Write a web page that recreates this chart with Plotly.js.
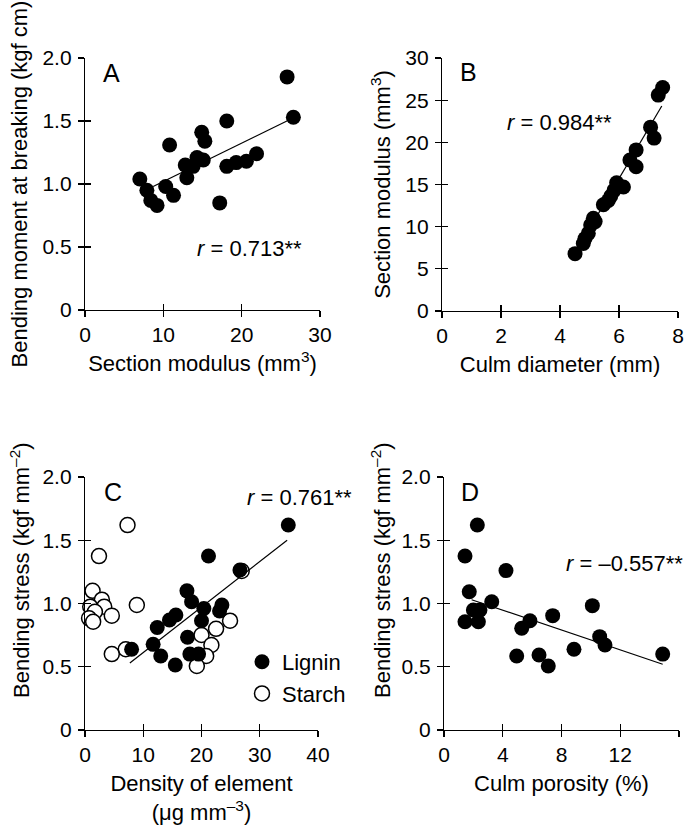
<!DOCTYPE html>
<html>
<head>
<meta charset="utf-8">
<script src="https://cdn.plot.ly/plotly-3.0.1.min.js"></script>
<style>html,body{margin:0;padding:0;background:#fff;}#chart{width:690px;height:827px;}</style>
</head>
<body>
<div id="chart"></div>
<script>
// ---------- Data ----------
// Panel A: section modulus (mm3) vs bending moment at breaking (kgf cm)
const aSection = [7.0, 7.9, 8.4, 9.2, 10.3, 10.8, 11.3, 12.8, 13.0, 13.8, 14.3, 14.9, 15.1, 15.3, 17.2, 18.1, 18.1, 19.3, 20.6, 21.9, 25.8, 26.6];
const aMoment  = [1.04, 0.95, 0.87, 0.83, 0.98, 1.31, 0.91, 1.15, 1.05, 1.14, 1.21, 1.41, 1.19, 1.34, 0.85, 1.50, 1.14, 1.17, 1.18, 1.24, 1.85, 1.53];
const aFitX = [8.7, 26.1];
const aFitY = [0.98, 1.51];

// Panel B: culm diameter (mm) vs section modulus (mm3)
const bDiameter = [4.51, 4.79, 4.85, 4.96, 5.04, 5.19, 5.13, 5.47, 5.64, 5.72, 5.83, 6.15, 5.92, 6.58, 6.37, 6.58, 7.19, 7.07, 7.33, 7.48];
const bSection  = [6.8, 8.0, 8.6, 9.2, 10.2, 10.6, 11.0, 12.6, 13.1, 13.6, 14.3, 14.7, 15.2, 17.1, 17.9, 19.1, 20.5, 21.8, 25.6, 26.5];
const bFitX = [4.5, 7.45];
const bFitY = [6.8, 24.3];

// Panel C: density of element (ug mm-3) vs bending stress (kgf mm-2)
const cLigninX = [34.9, 21.2, 26.6, 17.5, 18.3, 20.4, 23.5, 23.1, 20.0, 15.6, 14.5, 12.4, 17.6, 11.7, 8.0, 13.0, 18.0, 19.5, 15.5];
const cLigninY = [1.62, 1.375, 1.265, 1.10, 1.014, 0.961, 0.988, 0.941, 0.864, 0.909, 0.87, 0.81, 0.733, 0.677, 0.638, 0.585, 0.60, 0.60, 0.514];
const cStarchX = [7.3, 2.4, 1.3, 2.9, 0.9, 3.3, 1.7, 4.6, 0.7, 1.4, 8.9, 7.0, 4.6, 26.9, 24.9, 22.5, 20.0, 21.7, 20.8, 19.2];
const cStarchY = [1.62, 1.375, 1.10, 1.03, 0.975, 0.975, 0.935, 0.904, 0.883, 0.856, 0.988, 0.638, 0.60, 1.257, 0.864, 0.80, 0.751, 0.672, 0.585, 0.506];
const cFitX = [7.7, 34.7];
const cFitY = [0.53, 1.50];

// Panel D: culm porosity (%) vs bending stress (kgf mm-2)
const dPorosity = [2.27, 1.43, 4.22, 1.72, 3.25, 2.0, 2.45, 1.43, 2.34, 5.85, 5.29, 7.4, 10.1, 10.6, 10.96, 8.85, 4.95, 6.47, 7.1, 14.89];
const dStress   = [1.62, 1.375, 1.26, 1.093, 1.014, 0.949, 0.949, 0.856, 0.856, 0.864, 0.804, 0.904, 0.983, 0.738, 0.672, 0.638, 0.585, 0.593, 0.506, 0.60];
const dFitX = [1.88, 14.89];
const dFitY = [1.03, 0.52];

// Tick labels
const stressTicks = [0, 0.5, 1.0, 1.5, 2.0];
const stressTickText = ['0', '0.5', '1.0', '1.5', '2.0'];
const aXTicks = [0, 10, 20, 30];
const bXTicks = [0, 2, 4, 6, 8];
const bYTicks = [0, 5, 10, 15, 20, 25, 30];
const cXTicks = [0, 10, 20, 30, 40];
const dXTicks = [0, 4, 8, 12, 16];

// ---------- Styling ----------
const FONT = 'Liberation Sans, Arial, Helvetica, sans-serif';
const W = 690, H = 827;
const px = (a, b) => [a / W, b / W];
const py = (top, bottom) => [1 - bottom / H, 1 - top / H];

const dot = {size: 15, color: 'black'};
const ring = {size: 15, color: 'white', line: {color: 'black', width: 1.5}};
const fitLine = {color: 'black', width: 1.2};

function pts(x, y, xa, ya, marker, extra) {
  return Object.assign({x, y, xaxis: xa, yaxis: ya, type: 'scatter', mode: 'markers', marker, cliponaxis: false, showlegend: false, hoverinfo: 'skip'}, extra || {});
}
function fit(x, y, xa, ya) {
  return {x, y, xaxis: xa, yaxis: ya, type: 'scatter', mode: 'lines', line: fitLine, showlegend: false, hoverinfo: 'skip'};
}
function dummy(xa, ya) {
  return {x: [], y: [], xaxis: xa, yaxis: ya, type: 'scatter', mode: 'markers', showlegend: false, hoverinfo: 'skip'};
}

const data = [
  pts(aSection, aMoment, 'x', 'y', dot),
  fit(aFitX, aFitY, 'x', 'y'),
  pts(bDiameter, bSection, 'x2', 'y2', dot),
  fit(bFitX, bFitY, 'x2', 'y2'),
  pts(cStarchX, cStarchY, 'x3', 'y3', ring, {name: 'Starch', showlegend: true, legendrank: 2}),
  pts(cLigninX, cLigninY, 'x3', 'y3', dot, {name: 'Lignin', showlegend: true, legendrank: 1}),
  fit(cFitX, cFitY, 'x3', 'y3'),
  pts(dPorosity, dStress, 'x4', 'y4', dot),
  fit(dFitX, dFitY, 'x4', 'y4'),
  // overlay axes to draw the inward half of crossing ticks
  dummy('x', 'y5'), dummy('x5', 'y'),
  dummy('x2', 'y6'), dummy('x6', 'y2'),
  dummy('x3', 'y7'), dummy('x7', 'y3'),
  dummy('x4', 'y8'), dummy('x8', 'y4')
];

function ax(domain, range, tickvals, ticktext, anchor, extra) {
  return Object.assign({
    domain, range, anchor, tickvals, ticktext: ticktext || tickvals.map(String),
    showline: true, linecolor: 'black', linewidth: 1.2,
    ticks: 'outside', ticklen: 6, tickwidth: 1.2, tickcolor: 'black',
    showgrid: false, zeroline: false, fixedrange: true,
    tickfont: {family: FONT, size: 21, color: 'black'}
  }, extra || {});
}
function inner(over, anchor, range, tickvals) {
  return {overlaying: over, anchor, range, tickvals, ticks: 'inside', ticklen: 6, tickwidth: 1.2, tickcolor: 'black',
    showticklabels: false, showline: false, showgrid: false, zeroline: false, fixedrange: true};
}
const titleFont = {family: FONT, size: 22, color: 'black'};
const rFont = {family: FONT, size: 22, color: 'black'};
const letterFont = {family: FONT, size: 25, color: 'black'};

const layout = {
  width: W, height: H,
  margin: {l: 0, r: 0, t: 0, b: 0},
  paper_bgcolor: 'white', plot_bgcolor: 'rgba(0,0,0,0)',
  font: {family: FONT, size: 21, color: 'black'},
  showlegend: true,
  legend: {x: 242 / W, y: 1 - 641 / H, xanchor: 'left', yanchor: 'top', bgcolor: 'rgba(0,0,0,0)',
           font: {family: FONT, size: 22, color: 'black'}, tracegroupgap: 0, itemwidth: 30},

  xaxis: ax(px(85, 320), [0, 30], aXTicks, null, 'y', {title: {text: 'Section modulus (mm<sup>3</sup>)', font: titleFont, standoff: 10}}),
  yaxis: ax(py(58, 310), [0, 2], stressTicks, stressTickText, 'x', {ticklabelstandoff: 2, title: {text: 'Bending moment at breaking (kgf cm)', font: titleFont, standoff: 8}}),
  xaxis2: ax(px(442, 678), [0, 8], bXTicks, null, 'y2', {title: {text: 'Culm diameter (mm)', font: titleFont, standoff: 10}}),
  yaxis2: ax(py(58, 311), [0, 30], bYTicks, null, 'x2', {ticklabelstandoff: 2, title: {text: 'Section modulus (mm<sup>3</sup>)', font: titleFont, standoff: 8}}),
  xaxis3: ax(px(85, 318), [0, 40], cXTicks, null, 'y3', {title: {text: 'Density of element<br>(\u03BCg mm<sup>\u20133</sup>)', font: titleFont, standoff: 10}}),
  yaxis3: ax(py(477, 730), [0, 2], stressTicks, stressTickText, 'x3', {ticklabelstandoff: 2}),
  xaxis4: ax(px(444, 679), [0, 16], dXTicks, null, 'y4', {title: {text: 'Culm porosity (%)', font: titleFont, standoff: 10}}),
  yaxis4: ax(py(477, 730), [0, 2], stressTicks, stressTickText, 'x4', {ticklabelstandoff: 2}),

  yaxis5: inner('y', 'x', [0, 2], stressTicks),
  xaxis5: inner('x', 'y', [0, 30], aXTicks),
  yaxis6: inner('y2', 'x2', [0, 30], bYTicks),
  xaxis6: inner('x2', 'y2', [0, 8], bXTicks),
  yaxis7: inner('y3', 'x3', [0, 2], stressTicks),
  xaxis7: inner('x3', 'y3', [0, 40], cXTicks),
  yaxis8: inner('y4', 'x4', [0, 2], stressTicks),
  xaxis8: inner('x4', 'y4', [0, 16], dXTicks),

  annotations: [
    {text: 'A', x: 2.1, y: 1.88, xref: 'x', yref: 'y', xanchor: 'left', yanchor: 'middle', showarrow: false, font: letterFont},
    {text: 'B', x: 0.54, y: 28.3, xref: 'x2', yref: 'y2', xanchor: 'left', yanchor: 'middle', showarrow: false, font: letterFont},
    {text: 'C', x: 2.9, y: 1.88, xref: 'x3', yref: 'y3', xanchor: 'left', yanchor: 'middle', showarrow: false, font: letterFont},
    {text: 'D', x: 1.02, y: 1.88, xref: 'x4', yref: 'y4', xanchor: 'left', yanchor: 'middle', showarrow: false, font: letterFont},
    {text: '<i>r</i> = 0.713**', x: 14.0, y: 0.49, xref: 'x', yref: 'y', xanchor: 'left', yanchor: 'middle', showarrow: false, font: rFont},
    {text: '<i>r</i> = 0.984**', x: 2.14, y: 22.3, xref: 'x2', yref: 'y2', xanchor: 'left', yanchor: 'middle', showarrow: false, font: rFont},
    {text: '<i>r</i> = 0.761**', x: 27.5, y: 1.84, xref: 'x3', yref: 'y3', xanchor: 'left', yanchor: 'middle', showarrow: false, font: rFont},
    {text: '<i>r</i> = \u20130.557**', x: 685 / W, y: 1 - 563 / H, xref: 'paper', yref: 'paper', xanchor: 'right', yanchor: 'middle', showarrow: false, font: rFont},
    {text: 'Bending stress (kgf mm<sup>\u20132</sup>)', x: 20 / W, y: 1 - 570 / H, xref: 'paper', yref: 'paper', textangle: -90, xanchor: 'center', yanchor: 'middle', showarrow: false, font: titleFont},
    {text: 'Bending stress (kgf mm<sup>\u20132</sup>)', x: 381 / W, y: 1 - 570 / H, xref: 'paper', yref: 'paper', textangle: -90, xanchor: 'center', yanchor: 'middle', showarrow: false, font: titleFont}
  ]
};

Plotly.newPlot('chart', data, layout, {staticPlot: true, displayModeBar: false});
</script>
</body>
</html>
